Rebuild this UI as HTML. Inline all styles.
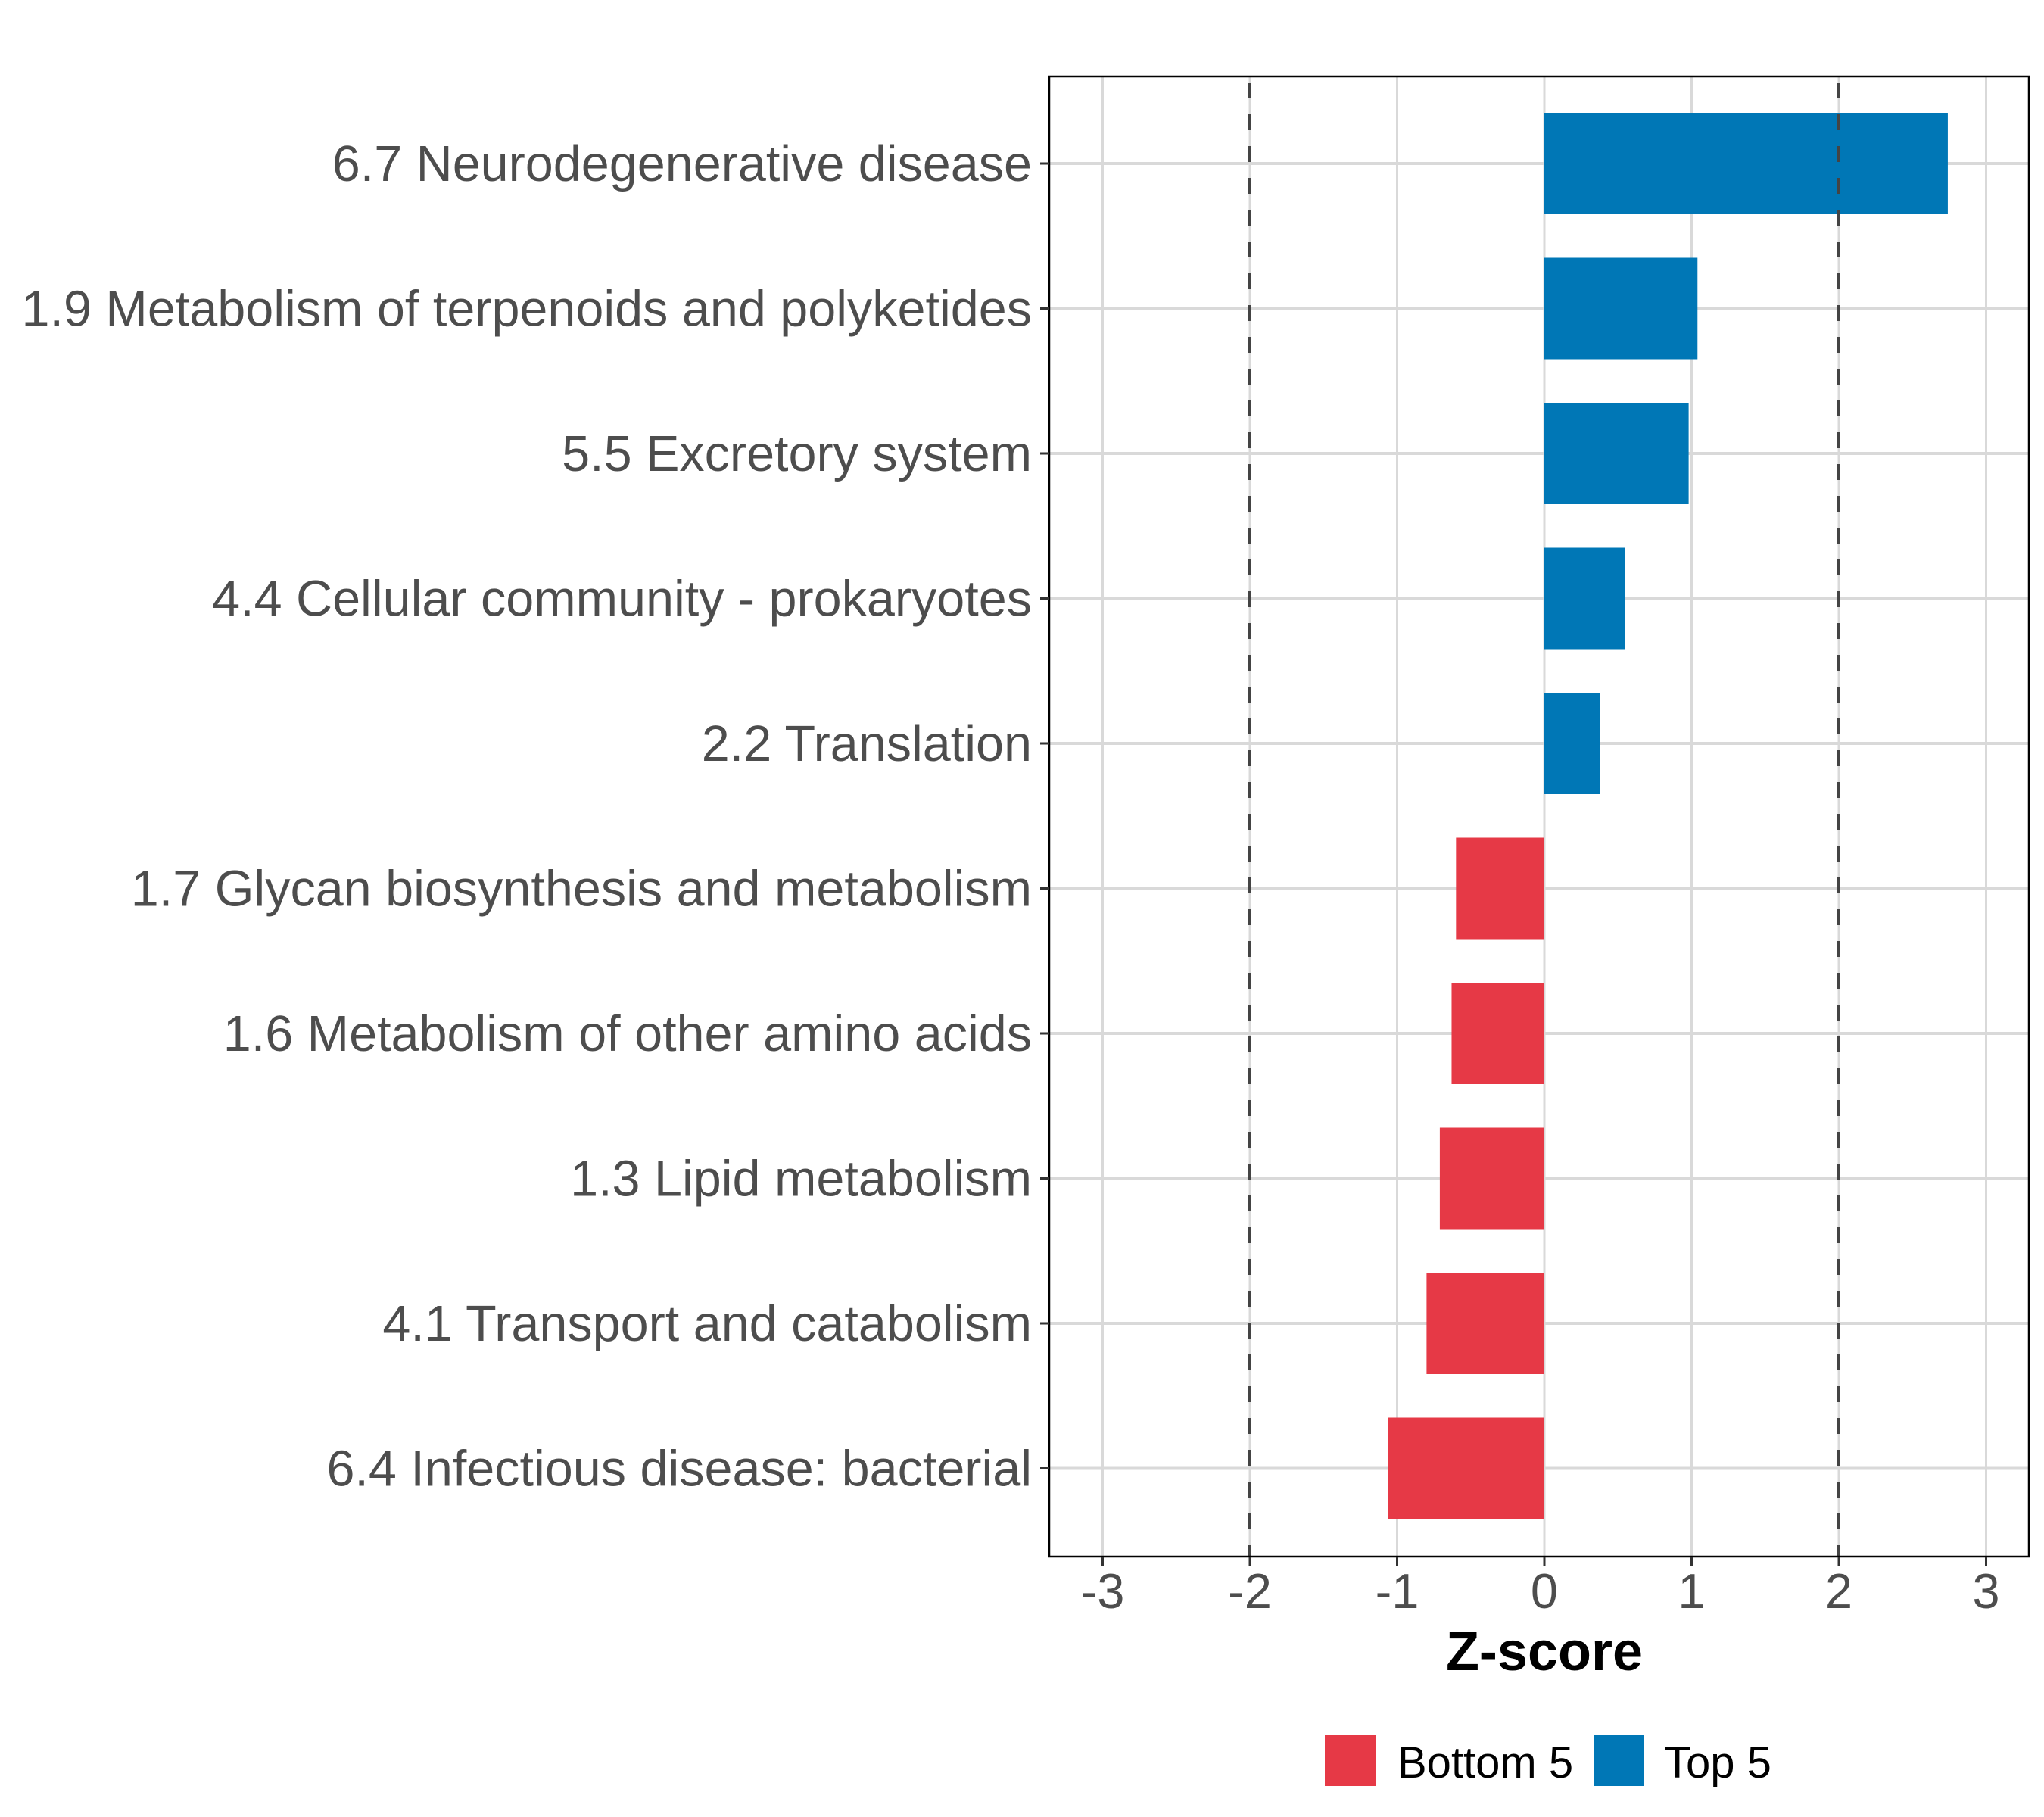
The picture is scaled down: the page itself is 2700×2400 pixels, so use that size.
<!DOCTYPE html>
<html><head><meta charset="utf-8"><style>
html,body{margin:0;padding:0;background:#fff;}
svg{display:block;font-family:"Liberation Sans",Arial,sans-serif;}
</style></head><body>
<svg id="chart" width="2700" height="2400" viewBox="0 0 2700 2400" xmlns="http://www.w3.org/2000/svg">
<g id="grid"></g>
<g id="bars"></g>
<g id="refs"></g>
<rect x="1386" y="101" width="1294" height="1955" fill="none" stroke="#000" stroke-width="2.5"/>
<g id="yaxis"></g>
<g id="xaxis"></g>
<text x="2040" y="2206" font-size="72" font-weight="bold" text-anchor="middle" fill="#000">Z-score</text>
<g>
<rect x="1750" y="2292" width="67" height="67" fill="#E63946"/>
<text x="1846" y="2348" font-size="58" fill="#000">Bottom 5</text>
<rect x="2105" y="2292" width="67" height="67" fill="#0077B6"/>
<text x="2198" y="2348" font-size="58" fill="#000">Top 5</text>
</g>
</svg>
<script>
const categories = ["6.7 Neurodegenerative disease","1.9 Metabolism of terpenoids and polyketides","5.5 Excretory system","4.4 Cellular community - prokaryotes","2.2 Translation","1.7 Glycan biosynthesis and metabolism","1.6 Metabolism of other amino acids","1.3 Lipid metabolism","4.1 Transport and catabolism","6.4 Infectious disease: bacterial"];
const zValues = [2.74, 1.04, 0.98, 0.55, 0.38, -0.60, -0.63, -0.71, -0.80, -1.06];
const groups = ["Top 5","Top 5","Top 5","Top 5","Top 5","Bottom 5","Bottom 5","Bottom 5","Bottom 5","Bottom 5"];
const xTicks = [-3,-2,-1,0,1,2,3];
const xTickLabels = ["-3","-2","-1","0","1","2","3"];
const refLines = [-2, 2];

const NS="http://www.w3.org/2000/svg";
const x0=2040, unit=194.5;
const X=v=>x0+v*unit;
const rowTop=216, rowStep=191.5;
const Y=i=>rowTop+i*rowStep;
const barH=134;
const pTop=101,pBottom=2056,pLeft=1386,pRight=2680;
function mk(tag,attrs,parent){const e=document.createElementNS(NS,tag);for(const k in attrs)e.setAttribute(k,attrs[k]);parent.appendChild(e);return e;}
const grid=document.getElementById('grid'),bars=document.getElementById('bars'),refs=document.getElementById('refs'),ya=document.getElementById('yaxis'),xa=document.getElementById('xaxis');
xTicks.forEach((t,i)=>{
  const g=mk('line',{x1:X(t),x2:X(t),y1:pTop,y2:pBottom,stroke:'#d9d9d9','stroke-width':3},grid);
  
  
  const tk=mk('line',{x1:X(t),x2:X(t),y1:pBottom,y2:pBottom+12,stroke:'#333','stroke-width':3},xa);
  
  
  const tl=mk('text',{x:X(t),y:2124,'font-size':65,'text-anchor':'middle',fill:'#4d4d4d'},xa);
  
  
  tl.textContent=xTickLabels[i];
});
categories.forEach((c,i)=>{
  const y=Y(i);
  const g=mk('line',{x1:pLeft,x2:pRight,y1:y,y2:y,stroke:'#d9d9d9','stroke-width':4},grid);
  
  
  const v=zValues[i];
  const b=mk('rect',{x:Math.min(X(0),X(v)),y:y-barH/2,width:Math.abs(X(v)-X(0)),height:barH,fill:groups[i]==='Top 5'?'#0077B6':'#E63946'},bars);
  
  
  const tk=mk('line',{x1:pLeft-12,x2:pLeft,y1:y,y2:y,stroke:'#333','stroke-width':3},ya);
  
  
  const tl=mk('text',{x:1363,y:y+23,'font-size':66.5,'text-anchor':'end',fill:'#4d4d4d'},ya);
  
  
  tl.textContent=c;
});
refLines.forEach(r=>{
  const l=mk('line',{x1:X(r),x2:X(r),y1:pTop,y2:pBottom,stroke:'#444','stroke-width':4,'stroke-dasharray':'21 21','stroke-dashoffset':'-8'},refs);
  
  
});
</script>
</body></html>
